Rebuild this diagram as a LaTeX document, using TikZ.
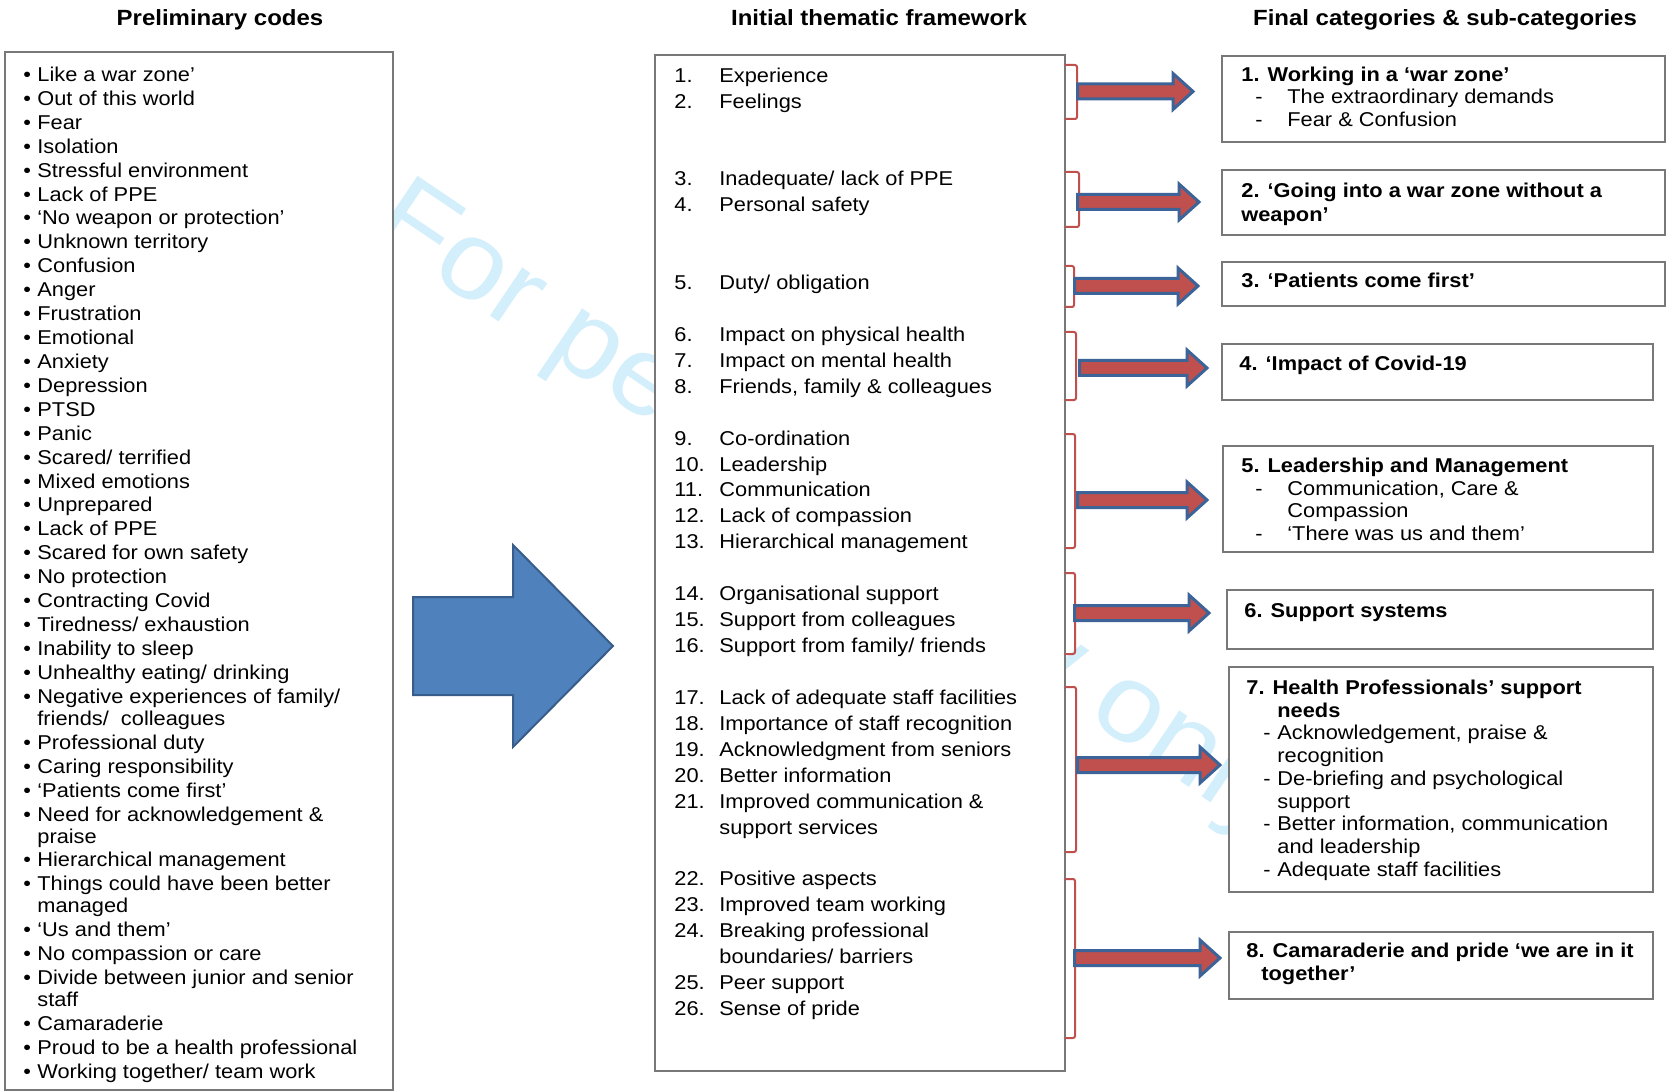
\documentclass[tikz,border=0pt]{standalone}
\usepackage{fontspec}
\setmainfont{Liberation Sans}[FakeStretch=1.09]
\usetikzlibrary{calc,fit}
\definecolor{boxgray}{RGB}{120,120,120}
\definecolor{brred}{RGB}{192,80,77}
\definecolor{arrblue}{RGB}{60,100,152}
\definecolor{bigfill}{RGB}{79,129,189}
\definecolor{bigline}{RGB}{56,93,138}
\definecolor{wmcyan}{RGB}{212,239,252}
\newcommand\bl{\makebox[7pt][l]{\textbullet}}
\newcommand\ct{\hspace*{7pt}}
\newcommand\nm[1]{\makebox[22.5pt][l]{#1}}
\newcommand\nc{\hspace*{22.5pt}}
\newcommand\fst{\rule{0pt}{8pt}}
\newcommand\ds[1]{\hspace*{#1}\makebox[16pt][l]{-}}
\newcommand\dsb{\hspace*{8.5pt}\makebox[7pt][l]{-}}
\newcommand\fatarrow[2]{%
  \draw[smallarrow] ($(#1)+(1.5,-7.5)$) -- ($(#2)+(-20,-7.5)$) -- ($(#2)+(-20,-18)$)
    -- (#2) -- ($(#2)+(-20,18)$) -- ($(#2)+(-20,7.5)$) -- ($(#1)+(1.5,7.5)$) -- cycle;}
\begin{document}
\begin{tikzpicture}[x=0.5pt,y=-0.5pt,
  panel/.style={draw=boxgray, line width=1pt, fill=white, inner sep=0pt},
  catbox/.style={draw=boxgray, line width=0.9pt, fill=white, inner sep=0pt},
  txt/.style={inner sep=0pt, anchor=north west, align=left},
  title/.style={inner sep=0pt, anchor=base, font=\fontsize{11}{13}\selectfont\bfseries},
  bracket/.style={draw=brred, line width=1pt, rounded corners=1pt},
  smallarrow/.style={fill=brred, draw=arrblue, line width=1.5pt, line join=miter},
  bigarrow/.style={fill=bigfill, draw=bigline, line width=1pt, line join=miter},
  wm/.style={text=wmcyan, inner sep=0pt, anchor=base west, rotate=-34, font=\fontsize{55}{55}\selectfont}]
\useasboundingbox (0,0) rectangle (1666,1091);
\fill[white] (0,0) rectangle (1666,1091);

% watermark
\node[wm] (wmark) at (367,233) {For peer review only};

% titles
\node[title] (h1) at (220,26) {Preliminary codes};
\node[title] (h2) at (879,26) {Initial thematic framework};
\node[title] (h3) at (1445,26) {Final categories \& sub-categories};

% left panel
\node[panel, fit={(5,52) (393,1090)}] (prelim) {};
\node[txt, font=\fontsize{10}{11}\selectfont] (plist) at (23,65) {\fst\bl Like a war zone’\\[0.96pt]
\bl Out of this world\\[0.96pt]
\bl Fear\\[0.96pt]
\bl Isolation\\[0.96pt]
\bl Stressful environment\\[0.96pt]
\bl Lack of PPE\\[0.96pt]
\bl ‘No weapon or protection’\\[0.96pt]
\bl Unknown territory\\[0.96pt]
\bl Confusion\\[0.96pt]
\bl Anger\\[0.96pt]
\bl Frustration\\[0.96pt]
\bl Emotional\\[0.96pt]
\bl Anxiety\\[0.96pt]
\bl Depression\\[0.96pt]
\bl PTSD\\[0.96pt]
\bl Panic\\[0.96pt]
\bl Scared/ terrified\\[0.96pt]
\bl Mixed emotions\\[0.96pt]
\bl Unprepared\\[0.96pt]
\bl Lack of PPE\\[0.96pt]
\bl Scared for own safety\\[0.96pt]
\bl No protection\\[0.96pt]
\bl Contracting Covid\\[0.96pt]
\bl Tiredness/ exhaustion\\[0.96pt]
\bl Inability to sleep\\[0.96pt]
\bl Unhealthy eating/ drinking\\[0.96pt]
\bl Negative experiences of family/\\
\ct friends/~ colleagues\\[0.96pt]
\bl Professional duty\\[0.96pt]
\bl Caring responsibility\\[0.96pt]
\bl ‘Patients come first’\\[0.96pt]
\bl Need for acknowledgement \&\\
\ct praise\\[0.96pt]
\bl Hierarchical management\\[0.96pt]
\bl Things could have been better\\
\ct managed\\[0.96pt]
\bl ‘Us and them’\\[0.96pt]
\bl No compassion or care\\[0.96pt]
\bl Divide between junior and senior\\
\ct staff\\[0.96pt]
\bl Camaraderie\\[0.96pt]
\bl Proud to be a health professional\\[0.96pt]
\bl Working together/ team work};

% big arrow
\draw[bigarrow] (413,597) -- (513,597) -- (513,545) -- (613,646) -- (513,747) -- (513,695) -- (413,695) -- cycle;

% middle panel
\node[panel, fit={(655,55) (1065,1071)}] (frame) {};
\node[txt, font=\fontsize{10}{13}\selectfont] (g1) at (674,66) {\fst\nm{1.}Experience\\ \nm{2.}Feelings};
\node[txt, font=\fontsize{10}{13}\selectfont] (g2) at (674,169.5) {\fst\nm{3.}Inadequate/ lack of PPE\\ \nm{4.}Personal safety};
\node[txt, font=\fontsize{10}{13}\selectfont] (g3) at (674,273) {\fst\nm{5.}Duty/ obligation};
\node[txt, font=\fontsize{10}{13}\selectfont] (g4) at (674,325) {\fst\nm{6.}Impact on physical health\\ \nm{7.}Impact on mental health\\ \nm{8.}Friends, family \& colleagues};
\node[txt, font=\fontsize{10}{12.875}\selectfont] (g5) at (674,429) {\fst\nm{9.}Co-ordination\\ \nm{10.}Leadership\\ \nm{11.}Communication\\ \nm{12.}Lack of compassion\\ \nm{13.}Hierarchical management};
\node[txt, font=\fontsize{10}{13}\selectfont] (g6) at (674,584) {\fst\nm{14.}Organisational support\\ \nm{15.}Support from colleagues\\ \nm{16.}Support from family/ friends};
\node[txt, font=\fontsize{10}{13}\selectfont] (g7) at (674,688) {\fst\nm{17.}Lack of adequate staff facilities\\ \nm{18.}Importance of staff recognition\\ \nm{19.}Acknowledgment from seniors\\ \nm{20.}Better information\\ \nm{21.}Improved communication \&\\ \nc support services};
\node[txt, font=\fontsize{10}{13}\selectfont] (g8) at (674,869) {\fst\nm{22.}Positive aspects\\ \nm{23.}Improved team working\\ \nm{24.}Breaking professional\\ \nc boundaries/ barriers\\ \nm{25.}Peer support\\ \nm{26.}Sense of pride};

% brackets
\draw[bracket] (1065,65) -- (1077,65) -- (1077,119) -- (1065,119);
\draw[bracket] (1065,172) -- (1079,172) -- (1079,227) -- (1065,227);
\draw[bracket] (1065,266) -- (1074,266) -- (1074,307) -- (1065,307);
\draw[bracket] (1065,332) -- (1076,332) -- (1076,400) -- (1065,400);
\draw[bracket] (1065,434) -- (1075,434) -- (1075,548) -- (1065,548);
\draw[bracket] (1065,573) -- (1075,573) -- (1075,654) -- (1065,654);
\draw[bracket] (1065,687) -- (1076,687) -- (1076,852) -- (1065,852);
\draw[bracket] (1065,879) -- (1075,879) -- (1075,1038) -- (1065,1038);

% right boxes
\node[catbox, fit={(1222,56) (1665,142)}] (c1) {};
\node[catbox, fit={(1222,170) (1665,235)}] (c2) {};
\node[catbox, fit={(1222,262) (1665,306)}] (c3) {};
\node[catbox, fit={(1222,344) (1653,400)}] (c4) {};
\node[catbox, fit={(1223,446) (1653,552)}] (c5) {};
\node[catbox, fit={(1227,590) (1653,649)}] (c6) {};
\node[catbox, fit={(1229,667) (1653,892)}] (c7) {};
\node[catbox, fit={(1229,932) (1653,999)}] (c8) {};

\node[txt, font=\fontsize{10}{11.25}\selectfont] (t1) at (1241,65) {\fst\textbf{1. Working in a ‘war zone’}\\ \ds{7pt}The extraordinary demands\\ \ds{7pt}Fear \& Confusion};
\node[txt, font=\fontsize{10}{12}\selectfont\bfseries] (t2) at (1241,181) {\fst 2. ‘Going into a war zone without a\\ weapon’};
\node[txt, font=\fontsize{10}{12}\selectfont\bfseries] (t3) at (1241,271) {\fst 3. ‘Patients come first’};
\node[txt, font=\fontsize{10}{12}\selectfont\bfseries] (t4) at (1239,354) {\fst 4. ‘Impact of Covid-19};
\node[txt, font=\fontsize{10}{11.33}\selectfont] (t5) at (1241,456) {\fst\textbf{5. Leadership and Management}\\ \ds{7pt}Communication, Care \&\\ \hspace*{23pt}Compassion\\ \ds{7pt}‘There was us and them’};
\node[txt, font=\fontsize{10}{12}\selectfont\bfseries] (t6) at (1244,601) {\fst 6. Support systems};
\node[txt, font=\fontsize{10}{11.375}\selectfont] (t7) at (1246,678) {\fst\textbf{7. Health Professionals’ support}\\
\hspace*{15.5pt}\textbf{needs}\\
\dsb Acknowledgement, praise \&\\
\hspace*{15.5pt}recognition\\
\dsb De-briefing and psychological\\
\hspace*{15.5pt}support\\
\dsb Better information, communication\\
\hspace*{15.5pt}and leadership\\
\dsb Adequate staff facilities};
\node[txt, font=\fontsize{10}{11.5}\selectfont\bfseries] (t8) at (1246,941) {\fst 8. Camaraderie and pride ‘we are in it\\ \hspace*{7.5pt}together’};

% arrows from brackets to categories
\coordinate (s1) at (1076,91.5); \coordinate (e1) at (1193,91.5);
\coordinate (s2) at (1076,202);  \coordinate (e2) at (1199,202);
\coordinate (s3) at (1073,286);  \coordinate (e3) at (1198,286);
\coordinate (s4) at (1078,368);  \coordinate (e4) at (1207,368);
\coordinate (s5) at (1076,500);  \coordinate (e5) at (1207,500);
\coordinate (s6) at (1073,613);  \coordinate (e6) at (1209,613);
\coordinate (s7) at (1076,765);  \coordinate (e7) at (1220,765);
\coordinate (s8) at (1073,958);  \coordinate (e8) at (1220,958);
\fatarrow{s1}{e1}
\fatarrow{s2}{e2}
\fatarrow{s3}{e3}
\fatarrow{s4}{e4}
\fatarrow{s5}{e5}
\fatarrow{s6}{e6}
\fatarrow{s7}{e7}
\fatarrow{s8}{e8}
\end{tikzpicture}
\end{document}
